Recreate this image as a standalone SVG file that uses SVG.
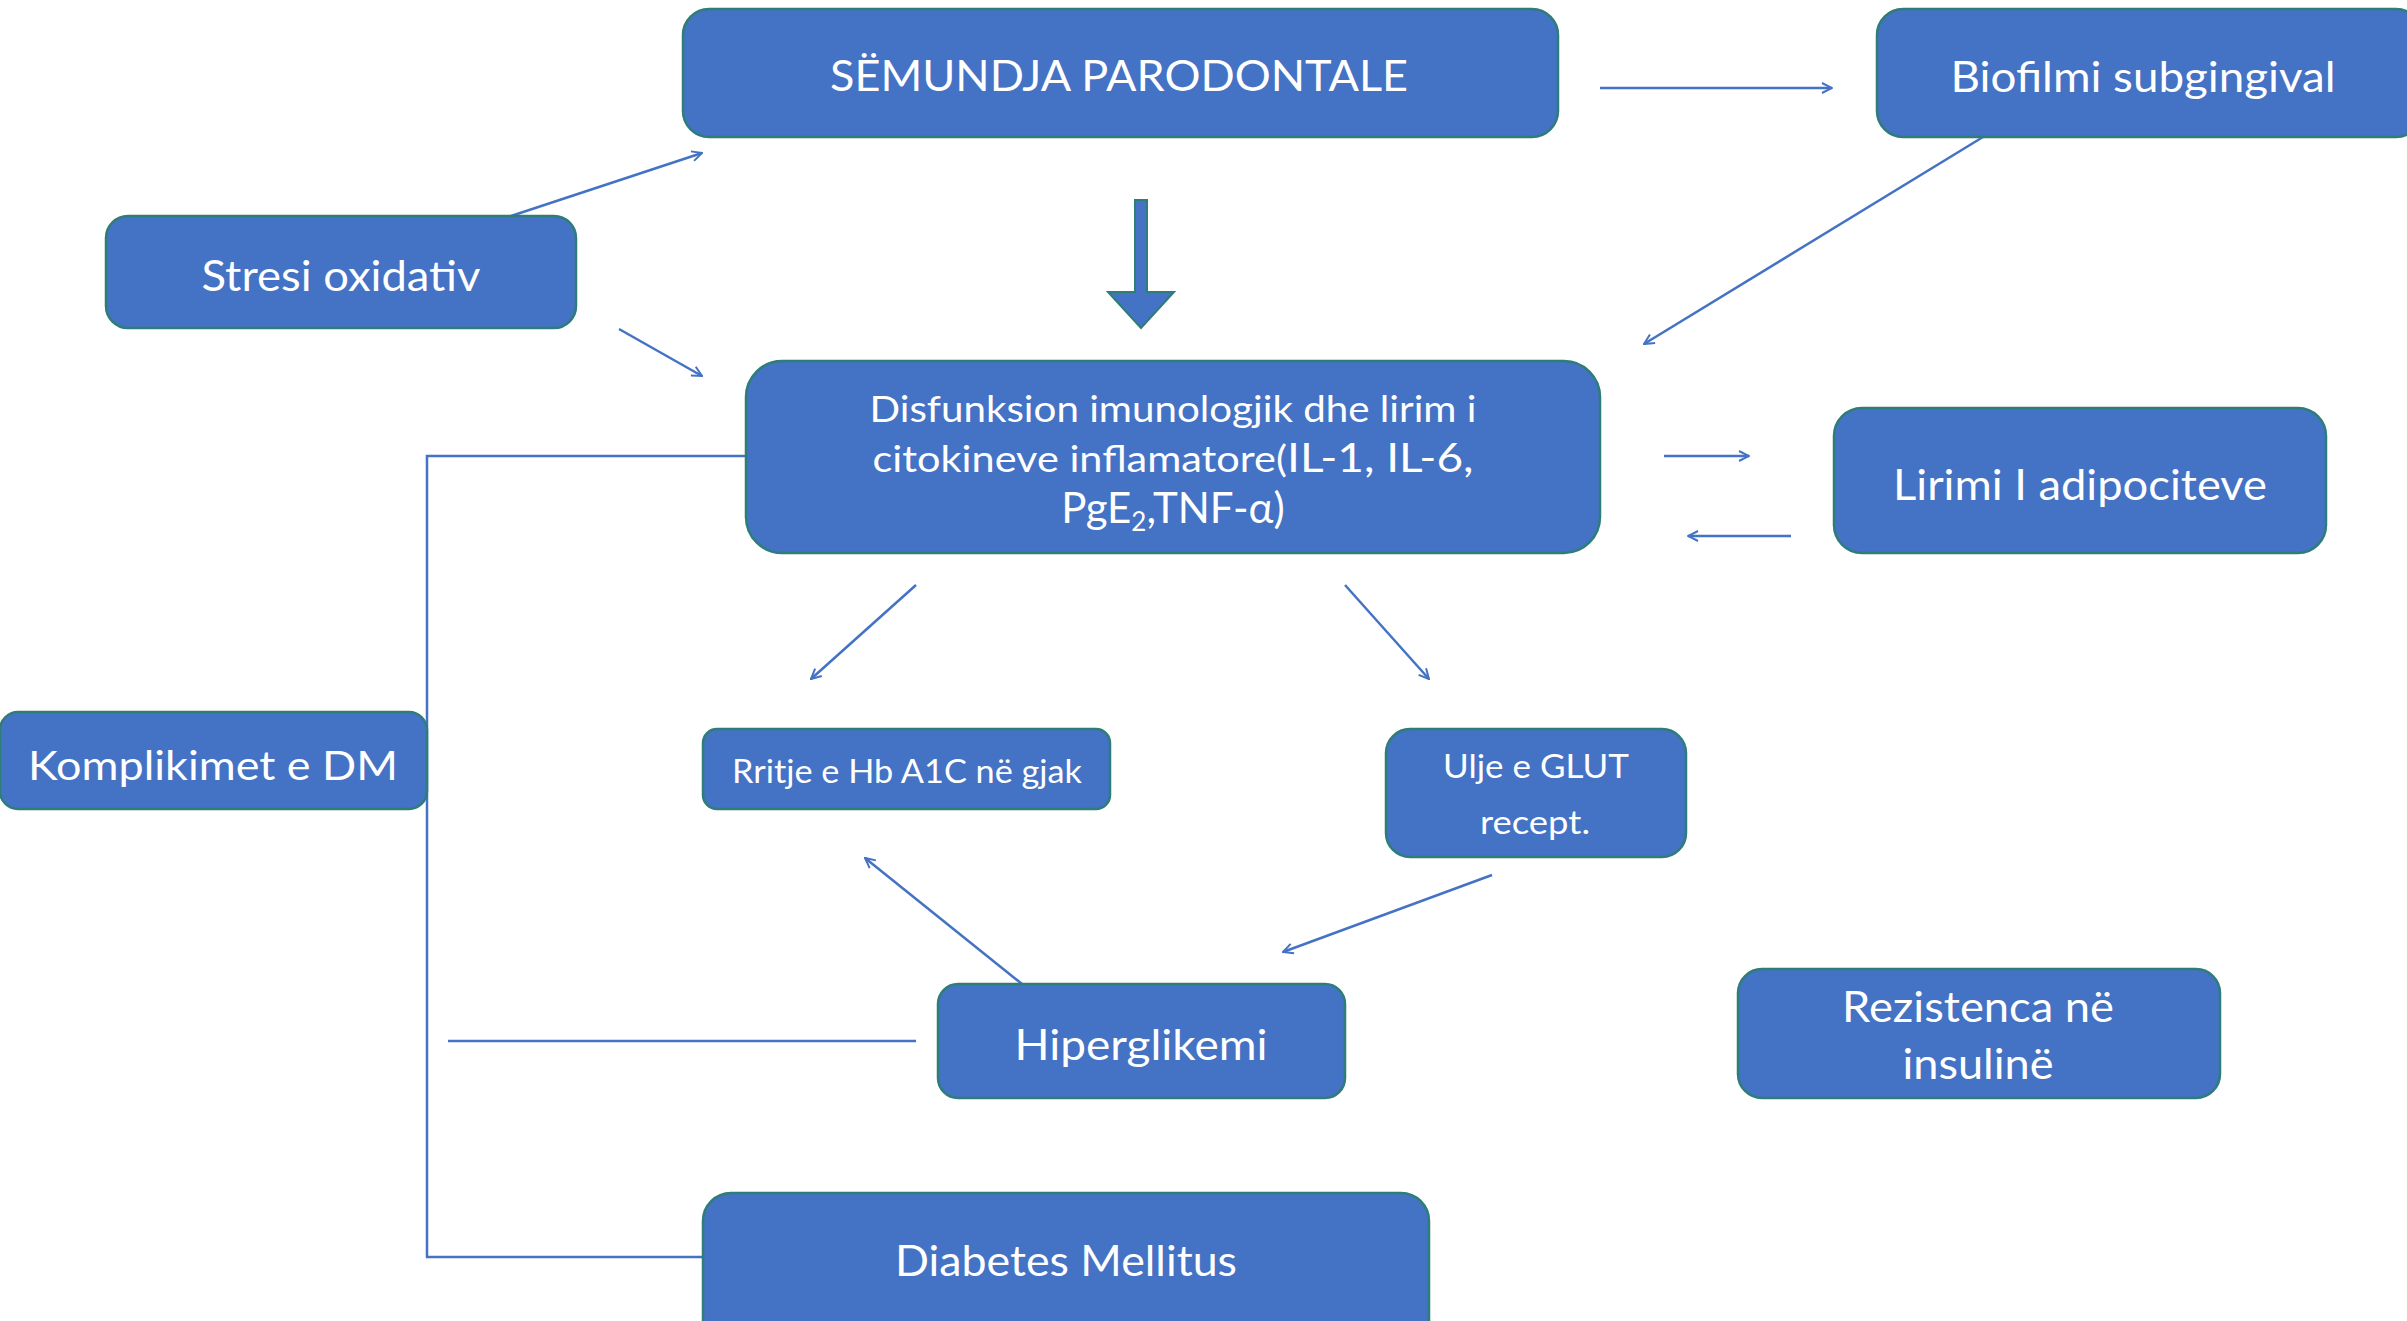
<svg xmlns="http://www.w3.org/2000/svg" width="2407" height="1321" viewBox="0 0 2407 1321">
<style>
.box{fill:#4472C4;stroke:#2E7D78;stroke-width:2.5}
.t{fill:#fff;font-family:Lato,"Open Sans","Liberation Sans",sans-serif;text-anchor:middle}
.c{fill:none;stroke:#4472C4;stroke-width:2.5}
</style>
<defs>
<marker id="ah" viewBox="0 0 12 12" refX="11" refY="6" markerWidth="12" markerHeight="12" markerUnits="userSpaceOnUse" orient="auto">
<path d="M1,1 L11,6 L1,11" fill="none" stroke="#4472C4" stroke-width="2"/>
</marker>
</defs>
<rect width="2407" height="1321" fill="#fff"/>
<g id="connectors">
<line class="c" x1="1600" y1="88" x2="1832" y2="88" marker-end="url(#ah)"/>
<line class="c" x1="511" y1="216" x2="702" y2="153" marker-end="url(#ah)"/>
<line class="c" x1="619" y1="329" x2="702" y2="376" marker-end="url(#ah)"/>
<line class="c" x1="1983" y1="137" x2="1644" y2="344" marker-end="url(#ah)"/>
<line class="c" x1="1664" y1="456" x2="1749" y2="456" marker-end="url(#ah)"/>
<line class="c" x1="1791" y1="536" x2="1688" y2="536" marker-end="url(#ah)"/>
<line class="c" x1="916" y1="585" x2="811" y2="679" marker-end="url(#ah)"/>
<line class="c" x1="1345" y1="585" x2="1429" y2="679" marker-end="url(#ah)"/>
<line class="c" x1="1492" y1="875" x2="1283" y2="952" marker-end="url(#ah)"/>
<line class="c" x1="1022" y1="984" x2="865" y2="858" marker-end="url(#ah)"/>
<polyline class="c" points="746,456 427,456 427,1257 703,1257"/>
<line class="c" x1="448" y1="1041" x2="916" y2="1041"/>
<path d="M1135,200 H1147 V292 H1174 L1141,328 L1108,292 H1135 Z" fill="#4472C4" stroke="#2E7D78" stroke-width="2"/>
</g>
<g id="n-semundja"><rect class="box" x="683" y="9" width="875" height="128" rx="26"/><text class="t" x="1119" y="91" font-size="42" textLength="578" lengthAdjust="spacingAndGlyphs">SËMUNDJA PARODONTALE</text></g>
<g id="n-biofilmi"><rect class="box" x="1877" y="9" width="545" height="128" rx="26"/><text class="t" x="2143" y="92" font-size="42" textLength="385" lengthAdjust="spacingAndGlyphs">Biofilmi subgingival</text></g>
<g id="n-stresi"><rect class="box" x="106" y="216" width="470" height="112" rx="22"/><text class="t" x="341" y="291" font-size="42" textLength="279" lengthAdjust="spacingAndGlyphs">Stresi oxidativ</text></g>
<g id="n-disfunksion"><rect class="box" x="746" y="361" width="854" height="192" rx="36"/>
<text class="t" x="1173" y="422" font-size="37" textLength="607" lengthAdjust="spacingAndGlyphs">Disfunksion imunologjik dhe lirim i</text>
<text class="t" x="1173" y="472" font-size="37" textLength="601" lengthAdjust="spacingAndGlyphs">citokineve inflamatore(<tspan font-size="41">IL-1, IL-6,</tspan></text>
<text class="t" x="1173" y="523" font-size="42">PgE<tspan font-size="26" dy="8">2</tspan><tspan dy="-8">,TNF-α)</tspan></text></g>
<g id="n-lirimi"><rect class="box" x="1834" y="408" width="492" height="145" rx="28"/><text class="t" x="2080" y="500" font-size="42" textLength="374" lengthAdjust="spacingAndGlyphs">Lirimi I adipociteve</text></g>
<g id="n-komplikimet"><rect class="box" x="0" y="712" width="427" height="97" rx="18"/><text class="t" x="213" y="780" font-size="40" textLength="370" lengthAdjust="spacingAndGlyphs">Komplikimet e DM</text></g>
<g id="n-rritje"><rect class="box" x="703" y="729" width="407" height="80" rx="14"/><text class="t" x="907" y="783" font-size="32" textLength="350" lengthAdjust="spacingAndGlyphs">Rritje e Hb A1C në gjak</text></g>
<g id="n-ulje"><rect class="box" x="1386" y="729" width="300" height="128" rx="24"/><text class="t" x="1536" y="778" font-size="32" textLength="186" lengthAdjust="spacingAndGlyphs">Ulje e GLUT</text><text class="t" x="1535" y="834" font-size="32" textLength="110" lengthAdjust="spacingAndGlyphs">recept.</text></g>
<g id="n-hiperglikemi"><rect class="box" x="938" y="984" width="407" height="114" rx="20"/><text class="t" x="1141" y="1060" font-size="42" textLength="253" lengthAdjust="spacingAndGlyphs">Hiperglikemi</text></g>
<g id="n-rezistenca"><rect class="box" x="1738" y="969" width="482" height="129" rx="24"/><text class="t" x="1978" y="1022" font-size="42" textLength="272" lengthAdjust="spacingAndGlyphs">Rezistenca në</text><text class="t" x="1978" y="1079" font-size="42" textLength="151" lengthAdjust="spacingAndGlyphs">insulinë</text></g>
<g id="n-diabetes"><rect class="box" x="703" y="1193" width="726" height="160" rx="28"/><text class="t" x="1066" y="1276" font-size="42" textLength="342" lengthAdjust="spacingAndGlyphs">Diabetes Mellitus</text></g>
</svg>
